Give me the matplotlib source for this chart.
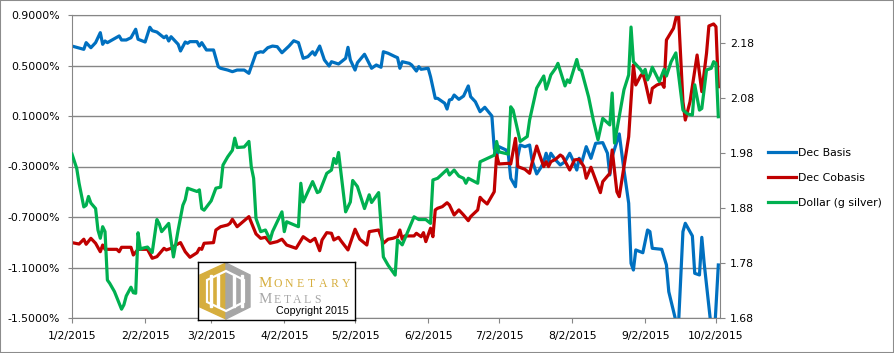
import pandas as pd
import matplotlib
matplotlib.use('Agg')
import matplotlib.pyplot as plt
import matplotlib.dates as mdates
from matplotlib.patches import Polygon, Rectangle

# days counted from 1/2/2015
basis_days = [0, 5, 6, 8, 10, 12, 13, 14, 15, 20, 21, 23, 25, 27, 28, 31, 33, 34, 36, 39, 40, 41, 42, 45, 46, 48, 49, 50,
              53, 54, 55, 57, 60, 62, 63, 66, 68, 70, 73, 75, 78, 80, 81, 83, 85, 87, 89, 92, 94, 96, 98, 100, 102, 103,
              105, 107, 109, 110, 113, 116, 117, 118, 120, 121, 124, 127, 129, 131, 132, 134, 137, 138, 139, 140, 143,
              144, 146, 147, 148, 151, 152, 154, 155, 158, 159, 160, 161, 162, 164, 166, 168, 169, 171, 173, 175, 178,
              179, 180, 181, 184, 185, 186, 188, 189, 190, 192, 194, 195, 197, 199, 200, 201, 202, 203, 205, 207, 209,
              211, 212, 214, 215, 216, 218, 220, 222, 225, 227, 228, 229, 232, 234, 236, 237, 238, 239, 242, 244, 245,
              246, 250, 252, 253, 257, 259, 260, 263, 264, 266, 267, 268, 272, 274]
basis = [0.654, 0.628, 0.681, 0.641, 0.681, 0.760, 0.668, 0.694, 0.681, 0.734, 0.702, 0.702, 0.720, 0.787, 0.708,
         0.686, 0.803, 0.776, 0.765, 0.720, 0.734, 0.694, 0.728, 0.668, 0.615, 0.686, 0.676, 0.689, 0.689, 0.654,
         0.681, 0.623, 0.623, 0.491, 0.478, 0.464, 0.451, 0.464, 0.464, 0.438, 0.597, 0.609, 0.605, 0.641, 0.654,
         0.649, 0.601, 0.654, 0.696, 0.681, 0.557, 0.570, 0.609, 0.583, 0.654, 0.544, 0.496, 0.530, 0.512, 0.557,
         0.644, 0.544, 0.464, 0.522, 0.589, 0.478, 0.504, 0.486, 0.609, 0.597, 0.570, 0.562, 0.478, 0.530, 0.517,
         0.504, 0.456, 0.491, 0.470, 0.478, 0.411, 0.240, 0.240, 0.201, 0.155, 0.227, 0.232, 0.266, 0.232, 0.258,
         0.338, 0.253, 0.213, 0.134, 0.169, 0.100, -0.156, -0.222, -0.143, -0.169, -0.209, -0.393, -0.460, -0.222,
         -0.130, -0.143, -0.130, -0.248, -0.359, -0.301, -0.262, -0.195, -0.262, -0.195, -0.248, -0.288, -0.262,
         -0.195, -0.235, -0.328, -0.235, -0.275, -0.143, -0.235, -0.116, -0.111, -0.195, -0.367, -0.222, -0.042,
         -0.328, -0.591, -1.067, -1.120, -0.961, -0.983, -0.803, -0.816, -0.948, -0.956, -1.080, -1.292, -1.600,
         -0.816, -0.750, -0.850, -1.146, -1.159, -0.861, -1.067, -1.750, -1.080]

cobasis_days = [0, 3, 5, 6, 8, 10, 12, 13, 14, 19, 20, 21, 25, 26, 28, 32, 34, 36, 39, 40, 42, 44, 46, 48, 50, 53, 54,
                55, 56, 60, 61, 63, 66, 67, 68, 70, 75, 78, 80, 82, 84, 87, 89, 91, 95, 98, 101, 103, 105, 106, 108,
                110, 111, 113, 114, 117, 120, 122, 125, 126, 130, 132, 134, 136, 138, 139, 140, 141, 145, 146, 148,
                149, 150, 152, 153, 154, 155, 157, 159, 160, 162, 164, 166, 168, 169, 172, 173, 174, 176, 179, 180,
                181, 185, 186, 188, 189, 192, 194, 195, 197, 198, 200, 201, 202, 203, 205, 207, 208, 211, 213, 215,
                217, 218, 220, 224, 225, 228, 229, 231, 232, 234, 236, 237, 238, 239, 241, 242, 243, 245, 246, 248,
                250, 251, 252, 255, 257, 259, 260, 262, 265, 267, 269, 270, 272, 273, 274]
cobasis = [-0.903, -0.914, -0.876, -0.916, -0.869, -0.908, -0.975, -0.922, -0.956, -0.956, -0.975, -0.940, -0.940,
           -1.001, -0.956, -0.956, -1.027, -1.014, -0.948, -0.961, -0.948, -0.922, -0.903, -0.975, -1.019, -0.983,
           -0.948, -0.956, -0.908, -0.903, -0.803, -0.777, -0.763, -0.750, -0.718, -0.777, -0.697, -0.834, -0.869,
           -0.861, -0.908, -0.895, -0.876, -0.922, -0.948, -0.856, -0.895, -0.869, -0.967, -0.882, -0.824, -0.829,
           -0.882, -0.861, -0.888, -0.961, -0.797, -0.876, -0.922, -0.816, -0.803, -0.908, -0.876, -0.869, -0.856,
           -0.803, -0.876, -0.850, -0.850, -0.829, -0.856, -0.824, -0.895, -0.789, -0.856, -0.644, -0.631, -0.618,
           -0.587, -0.605, -0.684, -0.644, -0.684, -0.729, -0.697, -0.644, -0.544, -0.565, -0.597, -0.500, -0.209,
           -0.280, -0.275, -0.280, -0.077, -0.301, -0.322, -0.354, -0.275, -0.138, -0.195, -0.301, -0.262, -0.301,
           -0.262, -0.243, -0.209, -0.222, -0.328, -0.248, -0.243, -0.301, -0.393, -0.306, -0.507, -0.420, -0.354,
           -0.169, -0.500, -0.539, -0.301, -0.064, 0.227, 0.504, 0.346, 0.417, 0.438, 0.372, 0.205, 0.319, 0.346,
           0.359, 0.327, 0.702, 0.795, 0.950, 0.213, 0.068, 0.213, 0.583, 0.293, 0.597, 0.813, 0.829, 0.807, 0.332]

dollar_days = [0, 2, 3, 5, 6, 7, 8, 10, 11, 12, 13, 14, 15, 16, 18, 20, 21, 22, 23, 25, 26, 27, 28, 29, 30, 32, 34, 36,
               37, 38, 40, 41, 43, 45, 47, 48, 49, 51, 53, 54, 55, 56, 59, 61, 63, 64, 66, 68, 69, 70, 73, 75, 76, 77,
               78, 80, 82, 84, 85, 89, 90, 91, 96, 97, 98, 102, 104, 105, 108, 110, 111, 112, 113, 116, 118, 119, 121,
               124, 126, 127, 130, 132, 134, 137, 138, 140, 145, 147, 150, 152, 153, 155, 159, 160, 162, 164, 166, 167,
               168, 172, 173, 176, 179, 180, 181, 185, 186, 187, 190, 191, 193, 194, 196, 197, 200, 201, 202, 203, 205,
               206, 209, 210, 211, 214, 215, 216, 219, 221, 223, 225, 228, 229, 230, 232, 234, 236, 237, 238, 241, 242,
               243, 244, 245, 246, 249, 251, 252, 254, 256, 259, 261, 263, 264, 266, 267, 269, 271, 272, 273, 274]
dollar = [1.978, 1.952, 1.925, 1.882, 1.885, 1.901, 1.889, 1.879, 1.840, 1.825, 1.846, 1.837, 1.749, 1.743, 1.728,
          1.707, 1.696, 1.704, 1.720, 1.736, 1.726, 1.725, 1.835, 1.805, 1.807, 1.809, 1.799, 1.859, 1.851, 1.837,
          1.847, 1.852, 1.791, 1.840, 1.885, 1.895, 1.916, 1.913, 1.910, 1.913, 1.879, 1.876, 1.893, 1.916, 1.918,
          1.958, 1.973, 1.985, 2.007, 1.990, 1.991, 2.001, 1.955, 1.934, 1.861, 1.837, 1.840, 1.822, 1.837, 1.873,
          1.837, 1.855, 1.846, 1.925, 1.891, 1.928, 1.908, 1.910, 1.943, 1.949, 1.970, 1.961, 1.981, 1.873, 1.891,
          1.930, 1.919, 1.879, 1.904, 1.890, 1.908, 1.791, 1.776, 1.758, 1.822, 1.813, 1.864, 1.859, 1.859, 1.852,
          1.931, 1.934, 1.950, 1.940, 1.949, 1.938, 1.934, 1.925, 1.934, 1.925, 1.964, 1.970, 1.976, 2.001, 1.982,
          1.978, 2.064, 2.058, 2.001, 2.004, 2.010, 2.040, 2.079, 2.098, 2.120, 2.096, 2.108, 2.122, 2.134, 2.143,
          2.102, 2.113, 2.108, 2.150, 2.132, 2.130, 2.082, 2.040, 2.004, 2.043, 2.031, 2.089, 1.998, 2.046, 2.095,
          2.122, 2.209, 2.146, 2.132, 2.125, 2.132, 2.113, 2.122, 2.136, 2.110, 2.132, 2.120, 2.146, 2.162, 2.058,
          2.051, 2.049, 2.104, 2.058, 2.061, 2.131, 2.134, 2.146, 2.143, 2.046]

month_labels = ['1/2/2015', '2/2/2015', '3/2/2015', '4/2/2015', '5/2/2015',
                '6/2/2015', '7/2/2015', '8/2/2015', '9/2/2015', '10/2/2015']
left_ticks = [-1.5, -1.1, -0.7, -0.3, 0.1, 0.5, 0.9]
right_ticks = [1.68, 1.78, 1.88, 1.98, 2.08, 2.18]

start = pd.Timestamp('2015-01-02')
def to_dates(days):
    return start + pd.to_timedelta(days, unit='D')

plt.rcParams['font.family'] = 'DejaVu Sans'
fs = 7.8
grid_c = '#868686'

fig = plt.figure(figsize=(8.94, 3.53), dpi=100)
ax = fig.add_axes([72/894, 35/353, (719.5-72)/894, 303/353])
ax2 = ax.twinx()

l1, = ax.plot(to_dates(basis_days), basis, color='#0070C0', lw=2.3, label='Dec Basis')
l2, = ax.plot(to_dates(cobasis_days), cobasis, color='#C00000', lw=2.3, label='Dec Cobasis')
l3, = ax2.plot(to_dates(dollar_days), dollar, color='#00B050', lw=2.3, label='Dollar (g silver)')

ax.set_ylim(-1.5, 0.9)
ax2.set_ylim(1.68, 1.68 + 303/550)
ax.set_xlim(start, start + pd.Timedelta(days=274.5))

ax.set_yticks(left_ticks)
ax.set_yticklabels(['%.4f%%' % t for t in left_ticks], fontsize=fs)
ax2.set_yticks(right_ticks)
ax2.set_yticklabels(['%.2f' % t for t in right_ticks], fontsize=fs)
xt = [pd.Timestamp('2015-%02d-02' % m) for m in range(1, 11)]
ax.set_xticks(xt)
ax.set_xticklabels(month_labels, fontsize=fs)

ax.grid(axis='y', color=grid_c, lw=1.0)
ax.set_axisbelow(True)
for sp in ['left', 'bottom', 'top']:
    ax.spines[sp].set_color(grid_c)
ax.spines['right'].set_visible(False)
for sp in ['left', 'bottom', 'top']:
    ax2.spines[sp].set_visible(False)
ax2.spines['right'].set_color(grid_c)
ax.tick_params(axis='y', length=3, color=grid_c, pad=5.5)
ax.tick_params(axis='x', length=3.5, color=grid_c, pad=6)
ax2.tick_params(axis='y', length=3.5, color=grid_c, pad=4)

fig.legend([l1, l2, l3], ['Dec Basis', 'Dec Cobasis', 'Dollar (g silver)'],
           loc='upper left', bbox_to_anchor=(758/894, 1 - 138.5/353), frameon=False,
           fontsize=fs, handlelength=2.6, handletextpad=0.15, labelspacing=1.37)

# logo box
lg = fig.add_axes([198/894, 33/353, 157/894, 58/353])
lg.set_xlim(0, 157)
lg.set_ylim(0, 58)
lg.set_xticks([])
lg.set_yticks([])
for sp in lg.spines.values():
    sp.set_color('black')
    sp.set_linewidth(1)
gold = '#D6AE3E'
grey = '#A6A6A6'
lg.add_patch(Polygon([(2, 45), (28, 57), (28, 1), (2, 13)], color=gold))
lg.add_patch(Polygon([(28, 57), (52, 45), (52, 13), (28, 1)], color=grey))
lg.add_patch(Polygon([(9, 40), (28, 49), (46, 40), (46, 18), (28, 9), (9, 18)],
                     fill=False, edgecolor='white', lw=1.6))
for bx in [11.5, 19, 35, 42.5]:
    lg.add_patch(Rectangle((bx, 13), 2.0, 32, color='white'))
lg.text(61, 33, 'M', color=gold, fontsize=10.8, family='Liberation Serif', va='baseline')
for i, ch in enumerate('ONETARY'):
    lg.text(79.5 + i * 11.4, 33, ch, color=gold, fontsize=8.5, family='Liberation Serif',
            ha='center', va='baseline')
lg.text(61, 17, 'M', color=grey, fontsize=10.8, family='Liberation Serif', va='baseline')
for i, ch in enumerate('ETALS'):
    lg.text(79 + i * 10.2, 17, ch, color=grey, fontsize=8.5, family='Liberation Serif',
            ha='center', va='baseline')
lg.text(151, 6, 'Copyright 2015', color='black', fontsize=7.7, family='Liberation Sans',
        ha='right', va='baseline')

fig.patches.append(Rectangle((0, 0), 1, 1, transform=fig.transFigure, fill=False,
                             edgecolor='#8c8c8c', lw=1.5))

fig.savefig('out.png', dpi=100)
